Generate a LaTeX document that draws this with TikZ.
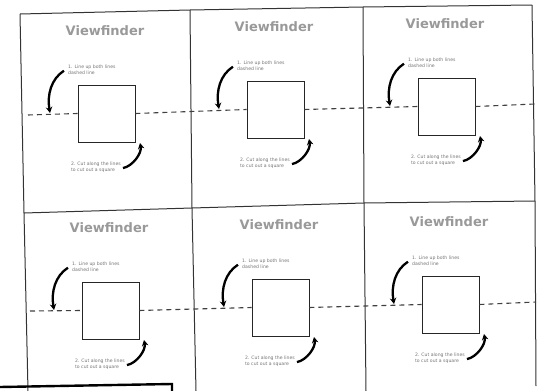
\documentclass[tikz,border=0pt]{standalone}
\usepackage{fontspec}
\setmainfont{DejaVu Sans}
\usetikzlibrary{arrows.meta}
\tikzset{
  gridline/.style={draw=black!80, line width=1pt},
  cutline/.style={draw=black!75, line width=1.1pt, dash pattern=on 5pt off 4pt},
  sqbox/.style={draw=black!85, line width=0.8pt, minimum size=57pt, inner sep=0pt},
  vftitle/.style={text=black!40, font=\fontsize{13}{15}\selectfont\bfseries, inner sep=0pt},
  note/.style={text=black!55, font=\fontsize{4.6}{5.4}\selectfont, align=left, inner sep=0pt},
  curvy/.style={draw=black, line width=2.3pt, -{Stealth[length=6pt,width=6.5pt]}},
  tape/.style={draw=black, line width=2.4pt}
}
\newcommand\vfcell[3]{%
  \node[sqbox] (sq#1) at (#2+28.5,#3+28.5) {};
  \node[vftitle] (ti#1) at (#2+27,#3-54) {Viewfinder};
  \node[note, anchor=north west] (na#1) at (#2-10,#3-20) {1. Line up both lines\\dashed line};
  \node[note, anchor=north east] (nb#1) at (#2+43,#3+77) {2. Cut along the lines\\to cut out a square};
  \coordinate (ea#1) at (#2-28,#3+28);
  \coordinate (eb#1) at (#2+62,#3+58);
  \draw[curvy] ([xshift=-4pt,yshift=-1pt]na#1.west) .. controls (#2-27,#3-6) and (#2-31,#3+10) .. (ea#1);
  \draw[curvy] ([xshift=2pt,yshift=-1pt]nb#1.east) .. controls (#2+55,#3+81) and (#2+64,#3+68) .. (eb#1);
}
\begin{document}
\begin{tikzpicture}[x=1pt,y=-1pt]
\useasboundingbox (0,0) rectangle (542,391);
% grid corners
\coordinate (TL) at (20,14);  \coordinate (T1) at (190,10);
\coordinate (T2) at (363,7);  \coordinate (TR) at (532,5);
\coordinate (ML) at (24,213); \coordinate (M1) at (192,208);
\coordinate (M2) at (364,203);\coordinate (MR) at (535,201);
\coordinate (BL) at (28,391); \coordinate (B1) at (196,391);
\coordinate (B2) at (366,391);\coordinate (BR) at (536,386);
\draw[gridline] (TL) -- (T1) -- (T2) -- (TR);
\draw[gridline] (ML) -- (M1) -- (M2) -- (MR);
\draw[gridline] (TL) -- (ML) -- (BL);
\draw[gridline] (T1) -- (M1) -- (B1);
\draw[gridline] (T2) -- (M2) -- (B2);
\draw[gridline] (TR) -- (MR) -- (BR);
% cells
\vfcell{1}{78}{85}
\vfcell{2}{247}{81}
\vfcell{3}{418}{78}
\vfcell{4}{82}{282}
\vfcell{5}{252}{279}
\vfcell{6}{422}{276}
% dashed lines
\coordinate (DA) at (28,115); \coordinate (DB) at (535,104);
\coordinate (DC) at (30,311); \coordinate (DD) at (536,302);
\draw[cutline] (DA) -- (sq1.west);
\draw[cutline] (sq1.east) -- (sq2.west);
\draw[cutline] (sq2.east) -- (sq3.west);
\draw[cutline] (sq3.east) -- (DB);
\draw[cutline] (DC) -- (sq4.west);
\draw[cutline] (sq4.east) -- (sq5.west);
\draw[cutline] (sq5.east) -- (sq6.west);
\draw[cutline] (sq6.east) -- (DD);
% tape at bottom left
\coordinate (K1) at (0,387); \coordinate (K2) at (172,384); \coordinate (K3) at (172,392);
\draw[tape] (K1) -- (K2) -- (K3);
\end{tikzpicture}
\end{document}
